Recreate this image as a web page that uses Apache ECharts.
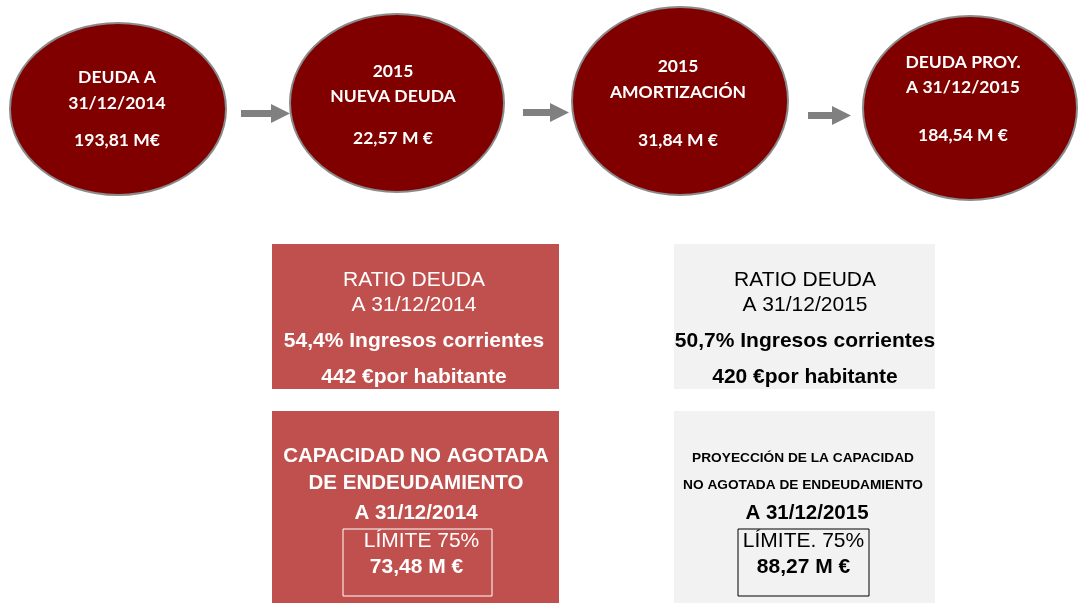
<!DOCTYPE html>
<html>
<head>
<meta charset="utf-8">
<script src="https://cdn.jsdelivr.net/npm/echarts@6/dist/echarts.min.js"></script>
<style>
  html, body { margin: 0; padding: 0; background: #fff; }
  #chart { width: 1078px; height: 603px; }
</style>
</head>
<body>
<div id="chart"></div>
<script>
// etapas de la deuda (círculos)
const etapaTitulos = [
  ['DEUDA A', '31/12/2014'],
  ['2015', 'NUEVA DEUDA'],
  ['2015', 'AMORTIZACIÓN'],
  ['DEUDA PROY.', 'A 31/12/2015']
]
const etapaValores = ['193,81 M€', '22,57 M €', '31,84 M €', '184,54 M €']

// ratios
const ratioTitulos = [['RATIO DEUDA', 'A 31/12/2014'], ['RATIO DEUDA', 'A 31/12/2015']]
const ratioIngresos = ['54,4% Ingresos corrientes', '50,7% Ingresos corrientes']
const ratioHabitante = ['442 €por habitante', '420 €por habitante']

// capacidad no agotada
const capacidadTitulos = [
  ['CAPACIDAD NO AGOTADA', 'DE ENDEUDAMIENTO'],
  ['PROYECCIÓN DE LA CAPACIDAD', 'NO AGOTADA DE ENDEUDAMIENTO']
]
const capacidadFechas = ['A 31/12/2014', 'A 31/12/2015']
const capacidadLimites = ['LÍMITE 75%', 'LÍMITE. 75%']
const capacidadValores = ['73,48 M €', '88,27 M €']

const chart = echarts.init(document.getElementById('chart'))

// layout
const elipses = [
  {cx: 118, cy: 109, rx: 108, ry: 86, ty: [77, 103, 140], tx: 117},
  {cx: 397, cy: 103, rx: 107, ry: 89, ty: [71, 96, 138], tx: 393},
  {cx: 680, cy: 101, rx: 108, ry: 94, ty: [66, 92, 140], tx: 678},
  {cx: 970, cy: 108, rx: 107, ry: 92, ty: [62, 87, 135], tx: 963}
]
const flechas = [
  {x0: 241, x1: 290, y: 113.5},
  {x0: 523, x1: 569, y: 112.5},
  {x0: 808, x1: 851, y: 115.5}
]

function texto (x, y, t, font, color) {
  return {
    type: 'text',
    style: {
      x: x, y: y, text: t, font: font, fill: color,
      textAlign: 'center', textVerticalAlign: 'middle'
    }
  }
}

let g = []

elipses.forEach((e, i) => {
  g.push({
    type: 'ellipse',
    shape: {cx: e.cx, cy: e.cy, rx: e.rx, ry: e.ry},
    style: {fill: '#800000', stroke: '#8a8a8a', lineWidth: 2}
  })
  const f = 'bold 17.5px Lato'
  g.push(texto(e.tx, e.ty[0], etapaTitulos[i][0], f, '#fff'))
  g.push(texto(e.tx, e.ty[1], etapaTitulos[i][1], f, '#fff'))
  g.push(texto(e.tx, e.ty[2], etapaValores[i], f, '#fff'))
})

flechas.forEach(a => {
  const head = 19
  g.push({
    type: 'polygon',
    shape: {
      points: [
        [a.x0, a.y - 3.5], [a.x1 - head, a.y - 3.5], [a.x1 - head, a.y - 9.5],
        [a.x1, a.y], [a.x1 - head, a.y + 9.5], [a.x1 - head, a.y + 3.5], [a.x0, a.y + 3.5]
      ]
    },
    style: {fill: '#808080'}
  })
})

// cajas
const cajas = [
  {x: 272, w: 287, fill: '#C0504D', color: '#fff', cx: 414, lim: {x: 343, w: 149, stroke: '#fff'}},
  {x: 674, w: 261, fill: '#F2F2F2', color: '#000', cx: 805, lim: {x: 738, w: 131, stroke: '#000'}}
]

const fN = '21px "Liberation Sans"'
const fB = 'bold 21px "Liberation Sans"'

cajas.forEach((c, i) => {
  g.push({type: 'rect', shape: {x: c.x, y: 244, width: c.w, height: 145}, style: {fill: c.fill}})
  g.push({type: 'rect', shape: {x: c.x, y: 411, width: c.w, height: 192}, style: {fill: c.fill}})

  g.push(texto(c.cx, 280, ratioTitulos[i][0], fN, c.color))
  g.push(texto(c.cx, 305, ratioTitulos[i][1], fN, c.color))
  g.push(texto(c.cx, 341, ratioIngresos[i], fB, c.color))
  g.push(texto(c.cx, 377, ratioHabitante[i], fB, c.color))

  const tf = i === 0 ? 'bold 20.5px "Liberation Sans"' : 'bold 13.7px "Liberation Sans"'
  g.push(texto(c.cx + (i === 0 ? 2 : -2), i === 0 ? 456 : 458, capacidadTitulos[i][0], tf, c.color))
  g.push(texto(c.cx + (i === 0 ? 2 : -2), i === 0 ? 483 : 485, capacidadTitulos[i][1], tf, c.color))
  g.push(texto(c.cx + 2, 513, capacidadFechas[i], 'bold 20.5px "Liberation Sans"', c.color))

  g.push({
    type: 'rect',
    shape: {x: c.lim.x, y: 529, width: c.lim.w, height: 67},
    style: {fill: 'none', stroke: c.lim.stroke, lineWidth: 1}
  })
  g.push(texto(c.lim.x + c.lim.w / 2 + (i === 0 ? 4 : 0), 541, capacidadLimites[i], fN, c.color))
  g.push(texto(c.lim.x + c.lim.w / 2 + (i === 0 ? -1 : 0), 567, capacidadValores[i], fB, c.color))
})

chart.setOption({
  backgroundColor: '#ffffff',
  animation: false,
  graphic: g
})
</script>
</body>
</html>
